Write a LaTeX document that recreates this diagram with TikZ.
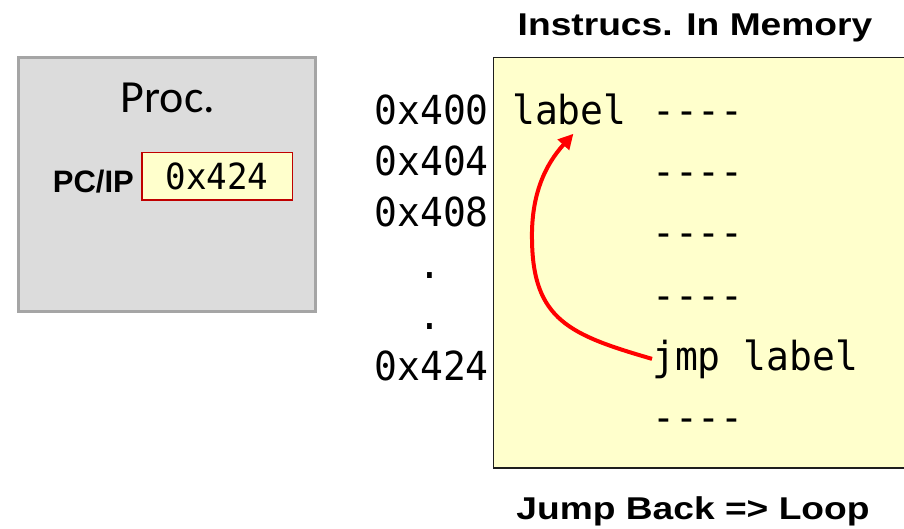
\documentclass[tikz,border=0pt]{standalone}
\usepackage{fontspec}
\setmainfont{Liberation Sans}
\newfontfamily\codefont[FakeStretch=0.95]{DejaVu Sans Mono}
\newfontfamily\procfont{Carlito}
\usetikzlibrary{arrows.meta,calc}

\definecolor{procfill}{HTML}{DCDCDC}
\definecolor{procedge}{HTML}{A5A5A5}
\definecolor{memfill}{HTML}{FFFFCC}
\definecolor{memedge}{HTML}{1E1E1E}
\definecolor{regedge}{HTML}{C00000}
\definecolor{jumpred}{HTML}{FF0000}

\tikzset{
  procbox/.style={draw=procedge, fill=procfill, line width=3pt, inner sep=0pt},
  regbox/.style={draw=regedge, fill=memfill, line width=1.5pt, inner sep=0pt,
    font=\codefont\fontsize{36}{36}\selectfont},
  membox/.style={draw=memedge, fill=memfill, line width=1.5pt, inner sep=0pt},
  code/.style={font=\codefont\fontsize{40}{40}\selectfont, inner sep=0pt, anchor=base west},
  addr/.style={code, anchor=base east},
  dotrow/.style={code, anchor=base},
  title/.style={font=\bfseries\fontsize{31.5}{31.5}\selectfont, inner sep=0pt, anchor=base},
  reglabel/.style={font=\bfseries\fontsize{31}{31}\selectfont, inner sep=0pt, anchor=base east},
  proctitle/.style={font=\procfont\fontsize{46}{46}\selectfont, inner sep=0pt, anchor=base},
  jump/.style={draw=jumpred, line width=4pt, -{Triangle[length=15pt,width=15pt]}}
}

\begin{document}
\begin{tikzpicture}[x=1pt,y=-1pt]
\useasboundingbox (0,0) rectangle (904,529);

% processor with its program counter
\node[procbox, minimum width=297pt, minimum height=254pt] (proc) at (167,184.5) {};
\node[proctitle] (proctxt) at (168,113) {Proc.};
\node[reglabel] (pclabel) at (134,193) {PC/IP};
\node[regbox, minimum width=150.5pt, minimum height=47.5pt] (pc) at (217,176.5) {0x424};

% memory holding the instructions (runs off the right edge)
\node[membox, anchor=north west, minimum width=440pt, minimum height=410.5pt] (mem) at (492.75,56.75) {};
\node[title] (memtitle) at (695,36) {\scalebox{1.18}[1]{Instrucs. In Memory}};
\node[title] (caption) at (693,519) {\scalebox{1.18}[1]{Jump Back => Loop}};

% addresses
\node[addr] (a400) at (489,125) {0x400};
\node[addr] (a404) at (489,176) {0x404};
\node[addr] (a408) at (489,227) {0x408};
\node[dotrow] (gap1) at (430,278) {.};
\node[dotrow] (gap2) at (430,329) {.};
\node[addr] (a424) at (489,380) {0x424};

% instruction lines
\node[code] (lbl) at (512,125) {label};
\node[code] (r1) at (652,125) {----};
\node[code] (r2) at (652,186) {----};
\node[code] (r3) at (652,247) {----};
\node[code] (r4) at (652,309) {----};
\node[code] (jmp) at (652,370) {jmp label};
\node[code] (r6) at (652,431) {----};

% the backward jump
\draw[jump] (jmp.west) .. controls (570,335) and (533,320) .. (532,240)
  .. controls (531,195) and (545,165) .. ($(lbl.south)+(4,8)$);
\end{tikzpicture}
\end{document}
